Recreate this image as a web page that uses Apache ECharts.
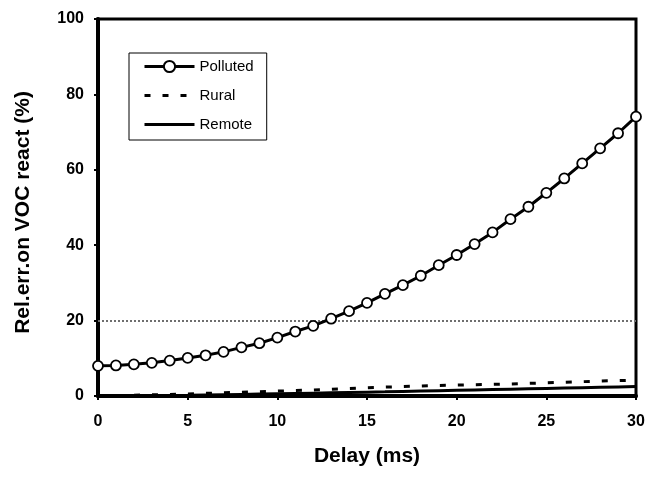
<!DOCTYPE html>
<html>
<head>
<meta charset="utf-8">
<script src="https://cdn.jsdelivr.net/npm/echarts@6/dist/echarts.min.js"></script>
<style>html,body{margin:0;padding:0;background:#fff}#c{width:649px;height:477px}</style>
</head>
<body>
<div id="c"></div>
<script>
// Delay (ms)
var delays = [0,1,2,3,4,5,6,7,8,9,10,11,12,13,14,15,16,17,18,19,20,21,22,23,24,25,26,27,28,29,30];
var polluted = [8.0,8.1,8.4,8.8,9.4,10.1,10.8,11.7,12.9,14.0,15.5,17.1,18.6,20.5,22.5,24.7,27.1,29.4,31.9,34.7,37.4,40.3,43.4,46.9,50.2,53.9,57.7,61.7,65.7,69.7,74.1];
var rural = [0,0.1,0.2,0.3,0.4,0.55,0.7,0.85,1.0,1.15,1.3,1.45,1.6,1.8,2.0,2.2,2.35,2.5,2.65,2.8,2.9,3.0,3.1,3.2,3.35,3.5,3.65,3.8,3.95,4.1,4.2];
var remote = [0,0.02,0.05,0.1,0.15,0.2,0.27,0.34,0.42,0.5,0.58,0.66,0.75,0.84,0.93,1.02,1.1,1.2,1.3,1.4,1.5,1.6,1.7,1.8,1.9,2.0,2.1,2.2,2.3,2.4,2.5];
var refLevel = 20;
var xTicks = [0,5,10,15,20,25,30];
var yTicks = [0,20,40,60,80,100];

function pairs(v){ return delays.map(function(d,i){ return [d, v[i]]; }); }

var FONT = "'Liberation Sans', Arial, Helvetica, sans-serif";
var noSym = {color: 'rgba(0,0,0,0)', borderWidth: 0, borderColor: 'rgba(0,0,0,0)'};
var chart = echarts.init(document.getElementById('c'), null, {renderer:'canvas'});
chart.setOption({
  animation: false,
  backgroundColor: '#fff',
  grid: {left: 98, right: 13, top: 19, bottom: 81, show: true, borderColor: '#000', borderWidth: 3, backgroundColor: 'transparent'},
  legend: {
    orient: 'vertical', left: 129, top: 53,
    data: [
      {name: 'Polluted', lineStyle: {width: 3}},
      {name: 'Rural', itemStyle: noSym, lineStyle: {width: 3, type: [6, 12]}},
      {name: 'Remote', itemStyle: noSym, lineStyle: {width: 3}}
    ],
    itemWidth: 50, itemHeight: 14, itemGap: 14,
    padding: [6, 13, 8, 14],
    borderColor: '#000', borderWidth: 1, backgroundColor: '#fff',
    textStyle: {fontFamily: FONT, fontSize: 15, color: '#000'}
  },
  xAxis: {
    type: 'value', min: xTicks[0], max: xTicks[xTicks.length-1], interval: 5,
    name: 'Delay (ms)', nameLocation: 'middle', nameGap: 50,
    nameTextStyle: {fontFamily: FONT, fontSize: 21, fontWeight: 'bold', color: '#000'},
    axisLine: {show: true, onZero: false, lineStyle: {color: '#000', width: 4}},
    axisTick: {show: true, inside: false, length: 4, lineStyle: {color: '#000', width: 2}},
    axisLabel: {fontFamily: FONT, fontSize: 16, fontWeight: 'bold', color: '#000', margin: 18},
    splitLine: {show: false}
  },
  yAxis: {
    type: 'value', min: yTicks[0], max: yTicks[yTicks.length-1], interval: 20,
    name: 'Rel.err.on VOC react (%)', nameLocation: 'middle', nameGap: 64, nameRotate: 90,
    nameTextStyle: {fontFamily: FONT, fontSize: 21, fontWeight: 'bold', color: '#000', padding: [0, 0, 0, -10]},
    axisLine: {show: true, lineStyle: {color: '#000', width: 4}},
    axisTick: {show: true, inside: false, length: 4, lineStyle: {color: '#000', width: 2}},
    axisLabel: {fontFamily: FONT, fontSize: 16, fontWeight: 'bold', color: '#000', margin: 14},
    splitLine: {show: false}
  },
  series: [
    {
      name: 'Rural', type: 'line', data: pairs(rural), symbol: 'none', z: 3,
      lineStyle: {color: '#000', width: 3, type: [6, 12]},
      itemStyle: {color: '#000'}
    },
    {
      name: 'Remote', type: 'line', data: pairs(remote), symbol: 'none', z: 3,
      lineStyle: {color: '#000', width: 3, type: 'solid'},
      itemStyle: {color: '#000'},
      markLine: {
        silent: true, symbol: ['none','none'], label: {show: false},
        lineStyle: {color: '#6e6e6e', width: 2, type: 'dotted'},
        data: [{yAxis: refLevel}]
      }
    },
    {
      name: 'Polluted', type: 'line', data: pairs(polluted), z: 5,
      symbol: 'circle', symbolSize: 10, showSymbol: true,
      lineStyle: {color: '#000', width: 3},
      itemStyle: {color: '#fff', borderColor: '#000', borderWidth: 1.8}
    }
  ]
});
</script>
</body>
</html>
